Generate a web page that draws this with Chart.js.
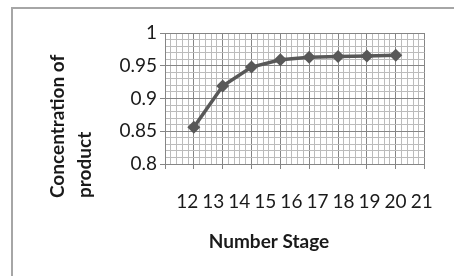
<!DOCTYPE html>
<html>
<head>
<meta charset="utf-8">
<script src="https://cdn.jsdelivr.net/npm/chart.js@4.4.1/dist/chart.umd.min.js"></script>
<style>
html, body { margin: 0; padding: 0; background: #fff; overflow: hidden; }
#wrap { position: relative; width: 454px; height: 276px; }
#frame { position: absolute; left: 11px; top: 7px; width: 470px; height: 300px;
         border-left: 2px solid #a6a6a6; border-top: 2px solid #a6a6a6; }
canvas { position: absolute; left: 0; top: 0; }
</style>
</head>
<body>
<div id="wrap">
  <div id="frame"></div>
  <canvas id="chart" width="454" height="276"></canvas>
</div>
<script>
// Data
var stages = [13, 14, 15, 16, 17, 18, 19, 20];
var concentration = [0.856, 0.919, 0.948, 0.959, 0.963, 0.964, 0.965, 0.966];
var yTickLabels = [0.8, 0.85, 0.9, 0.95, 1];
var xTickLabels = [12, 13, 14, 15, 16, 17, 18, 19, 20, 21];
var xTitle = 'Number Stage';
var yTitle = ['Concentration of', 'product'];

var textColor = '#1a1a1a';
var lineColor = '#585858';
var majorGrid = '#858585';
var minorGrid = '#bcbcbc';
var tickFont = { family: 'Lato', size: 19 };

function hasLabel(list, v) {
    for (var i = 0; i < list.length; i++) {
        if (Math.abs(list[i] - v) < 1e-6) return list[i];
    }
    return null;
}
function isMajorX(ctx) { return ctx.tick && hasLabel(xTickLabels, ctx.tick.value) !== null; }
function isMajorY(ctx) { return ctx.tick && hasLabel(yTickLabels, ctx.tick.value) !== null; }

// axis titles drawn by hand so they sit where the original puts them
var axisTitles = {
    id: 'axisTitles',
    afterDraw: function (chart) {
        var ctx = chart.ctx;
        ctx.save();
        ctx.fillStyle = textColor;
        ctx.font = 'bold 19px Lato';
        ctx.textBaseline = 'middle';
        ctx.textAlign = 'center';
        ctx.fillText(xTitle, 269, 242);
        ctx.translate(58, 198);
        ctx.rotate(-Math.PI / 2);
        ctx.textAlign = 'left';
        ctx.fillText(yTitle[0], 0, 0);
        ctx.fillText(yTitle[1], 0, 27);
        ctx.restore();
    }
};

var points = stages.map(function (s, i) { return { x: s, y: concentration[i] }; });

new Chart(document.getElementById('chart'), {
    type: 'line',
    data: {
        datasets: [{
            label: 'Concentration of product',
            data: points,
            borderColor: lineColor,
            backgroundColor: lineColor,
            borderWidth: 3.5,
            pointStyle: 'rectRot',
            pointRadius: 6.5,
            pointBorderWidth: 0,
            pointBackgroundColor: lineColor,
            tension: 0
        }]
    },
    options: {
        responsive: false,
        animation: false,
        events: [],
        layout: { padding: { left: 105, top: 33, right: 22, bottom: 0 } },
        plugins: { legend: { display: false }, tooltip: { enabled: false } },
        scales: {
            x: {
                type: 'linear',
                position: 'bottom',
                weight: 0,
                min: xTickLabels[0],
                max: xTickLabels[xTickLabels.length - 1],
                afterFit: function (s) { s.height = 5; },
                border: { color: majorGrid },
                grid: {
                    color: function (c) { return isMajorX(c) ? majorGrid : minorGrid; },
                    tickColor: function (c) { return isMajorX(c) ? majorGrid : 'rgba(0,0,0,0)'; },
                    tickLength: 5
                },
                ticks: { display: false, stepSize: 0.2, autoSkip: false }
            },
            // labels only: the original prints them slightly squeezed
            xLabels: {
                type: 'linear',
                position: 'bottom',
                weight: 1,
                min: 11.149,
                max: 21.112,
                afterFit: function (s) { s.height = 107; },
                border: { display: false },
                grid: { display: false, drawTicks: false },
                ticks: {
                    stepSize: 1,
                    includeBounds: false,
                    autoSkip: false,
                    maxRotation: 0,
                    padding: 21,
                    color: textColor,
                    font: tickFont,
                    callback: function (v) {
                        var l = hasLabel(xTickLabels, v);
                        return l === null ? '' : String(l);
                    }
                }
            },
            y: {
                min: yTickLabels[0],
                max: yTickLabels[yTickLabels.length - 1],
                afterFit: function (s) { s.width = 60; },
                border: { color: majorGrid },
                grid: {
                    color: function (c) { return isMajorY(c) ? majorGrid : minorGrid; },
                    tickColor: function (c) { return isMajorY(c) ? majorGrid : 'rgba(0,0,0,0)'; },
                    tickLength: 5
                },
                ticks: {
                    stepSize: 0.01,
                    autoSkip: false,
                    padding: 3,
                    color: textColor,
                    font: tickFont,
                    callback: function (v) {
                        var l = hasLabel(yTickLabels, v);
                        return l === null ? '' : String(l);
                    }
                }
            }
        }
    },
    plugins: [axisTitles]
});
</script>
</body>
</html>
